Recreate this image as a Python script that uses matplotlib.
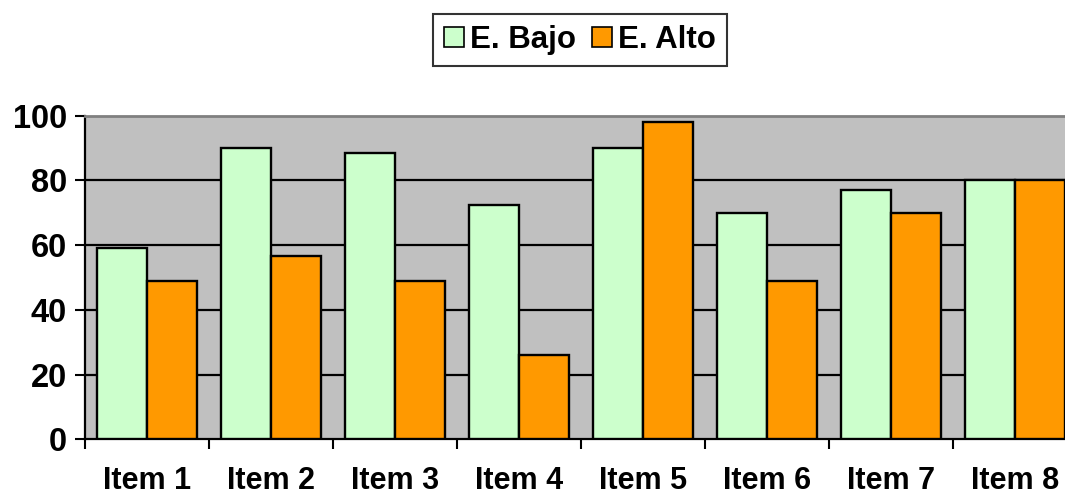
import matplotlib
matplotlib.use("Agg")
import matplotlib.pyplot as plt
import numpy as np
from matplotlib.patches import Patch

categories = ["Item 1", "Item 2", "Item 3", "Item 4", "Item 5", "Item 6", "Item 7", "Item 8"]
series_names = ["E. Bajo", "E. Alto"]
bajo = [59, 90, 88.5, 72.5, 90, 70, 77, 80]
alto = [49, 56.5, 49, 26, 98, 49, 70, 80]
y_ticks = [0, 20, 40, 60, 80, 100]

green = "#CCFFCC"
orange = "#FF9900"

plt.rcParams["font.family"] = ["Liberation Sans", "DejaVu Sans"]
plt.rcParams["font.weight"] = "bold"

fig = plt.figure(figsize=(10.65, 4.96), dpi=100)
ax = fig.add_axes([0.0798, 0.1143, 0.9315, 0.6524])
ax.set_facecolor("#C0C0C0")

x = np.arange(len(categories))
w = 0.4
ax.bar(x - w / 2, bajo, width=w, color=green, edgecolor="black", linewidth=1.7, zorder=3)
ax.bar(x + w / 2, alto, width=w, color=orange, edgecolor="black", linewidth=1.7, zorder=3)

ax.set_xlim(-0.5, len(categories) - 0.5)
ax.set_ylim(0, 100)
ax.set_yticks(y_ticks)
ax.set_yticklabels([str(t) for t in y_ticks], fontsize=23.5, fontweight="bold")
for t in y_ticks[1:-1]:
    ax.axhline(t, color="black", linewidth=1.6, zorder=1)

# category labels in the middle, tick marks on the boundaries
ax.set_xticks(x)
ax.set_xticklabels(categories, fontsize=22, fontweight="bold")
ax.tick_params(axis="x", which="major", length=0, pad=19.5)
ax.set_xticks(np.arange(-0.5, len(categories), 1.0), minor=True)
ax.tick_params(axis="x", which="minor", length=7, width=1.5, direction="out")
ax.tick_params(axis="y", length=7, width=1.5, direction="out", pad=6)

for side in ["left", "bottom"]:
    ax.spines[side].set_color("black")
    ax.spines[side].set_linewidth(1.6)
ax.spines["top"].set_color("#808080")
ax.spines["top"].set_linewidth(2)
ax.spines["right"].set_visible(False)

handles = [Patch(facecolor=green, edgecolor="black", linewidth=1.2),
           Patch(facecolor=orange, edgecolor="black", linewidth=1.2)]
leg = fig.legend(handles, series_names, loc="center", bbox_to_anchor=(580 / 1065, 1 - 40 / 496),
                 ncol=2, prop={"weight": "bold", "size": 22.5},
                 handlelength=0.65, handleheight=0.65, handletextpad=0.2, columnspacing=0.5,
                 frameon=True, fancybox=False, borderpad=0.35, borderaxespad=0)
leg.get_frame().set_edgecolor("black")
leg.get_frame().set_linewidth(1.5)

fig.savefig("out.png", dpi=100)
